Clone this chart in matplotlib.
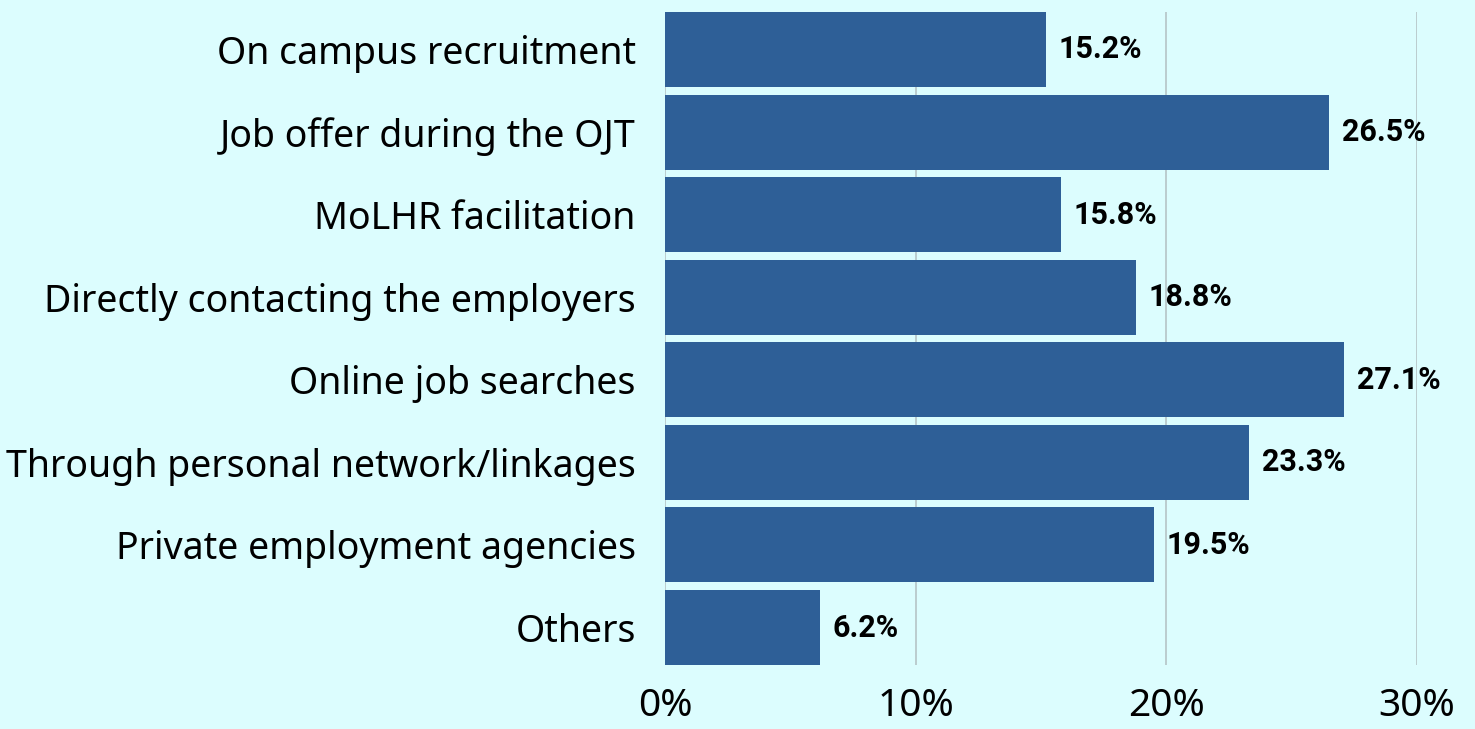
import matplotlib.pyplot as plt
from matplotlib.ticker import FuncFormatter

categories = [
    "On campus recruitment",
    "Job offer during the OJT",
    "MoLHR facilitation",
    "Directly contacting the employers",
    "Online job searches",
    "Through personal network/linkages",
    "Private employment agencies",
    "Others",
]
values = [15.2, 26.5, 15.8, 18.8, 27.1, 23.3, 19.5, 6.2]
xticks = [0, 10, 20, 30]

bg = "#dcfdfe"
bar_color = "#2e5f97"

fig = plt.figure(figsize=(14.75, 7.29), dpi=100, facecolor=bg)
ax = fig.add_axes([665/1475, 1-665/729, (1417-665)/1475, (665-12)/729])
ax.set_facecolor(bg)

y = list(range(len(categories)))
ax.barh(y, values, height=0.908, color=bar_color, zorder=3)
ax.set_ylim(len(categories) - 1 + 0.454, -0.454)
ax.set_xlim(0, 30)

ax.set_xticks(xticks)
ax.xaxis.set_major_formatter(FuncFormatter(lambda v, p: f"{v:.0f}%"))
ax.grid(axis="x", color="#b5c4c6", linewidth=1.2, zorder=0)
for s in ax.spines.values():
    s.set_visible(False)

ax.set_yticks(y)
ax.set_yticklabels(categories, fontsize=27, family="Noto Sans")
ax.tick_params(axis="y", length=0, pad=21)
ax.tick_params(axis="x", length=0, pad=16, labelsize=28)
for lab in ax.get_xticklabels():
    lab.set_family("Noto Sans")

for yi, v in zip(y, values):
    ax.annotate(f"{v}%", (v, yi), xytext=(9, 0), textcoords="offset points",
                va="center", ha="left", fontsize=22, fontweight="bold",
                family="Roboto", color="black", zorder=4)

fig.savefig("out.png", dpi=100, facecolor=bg)
